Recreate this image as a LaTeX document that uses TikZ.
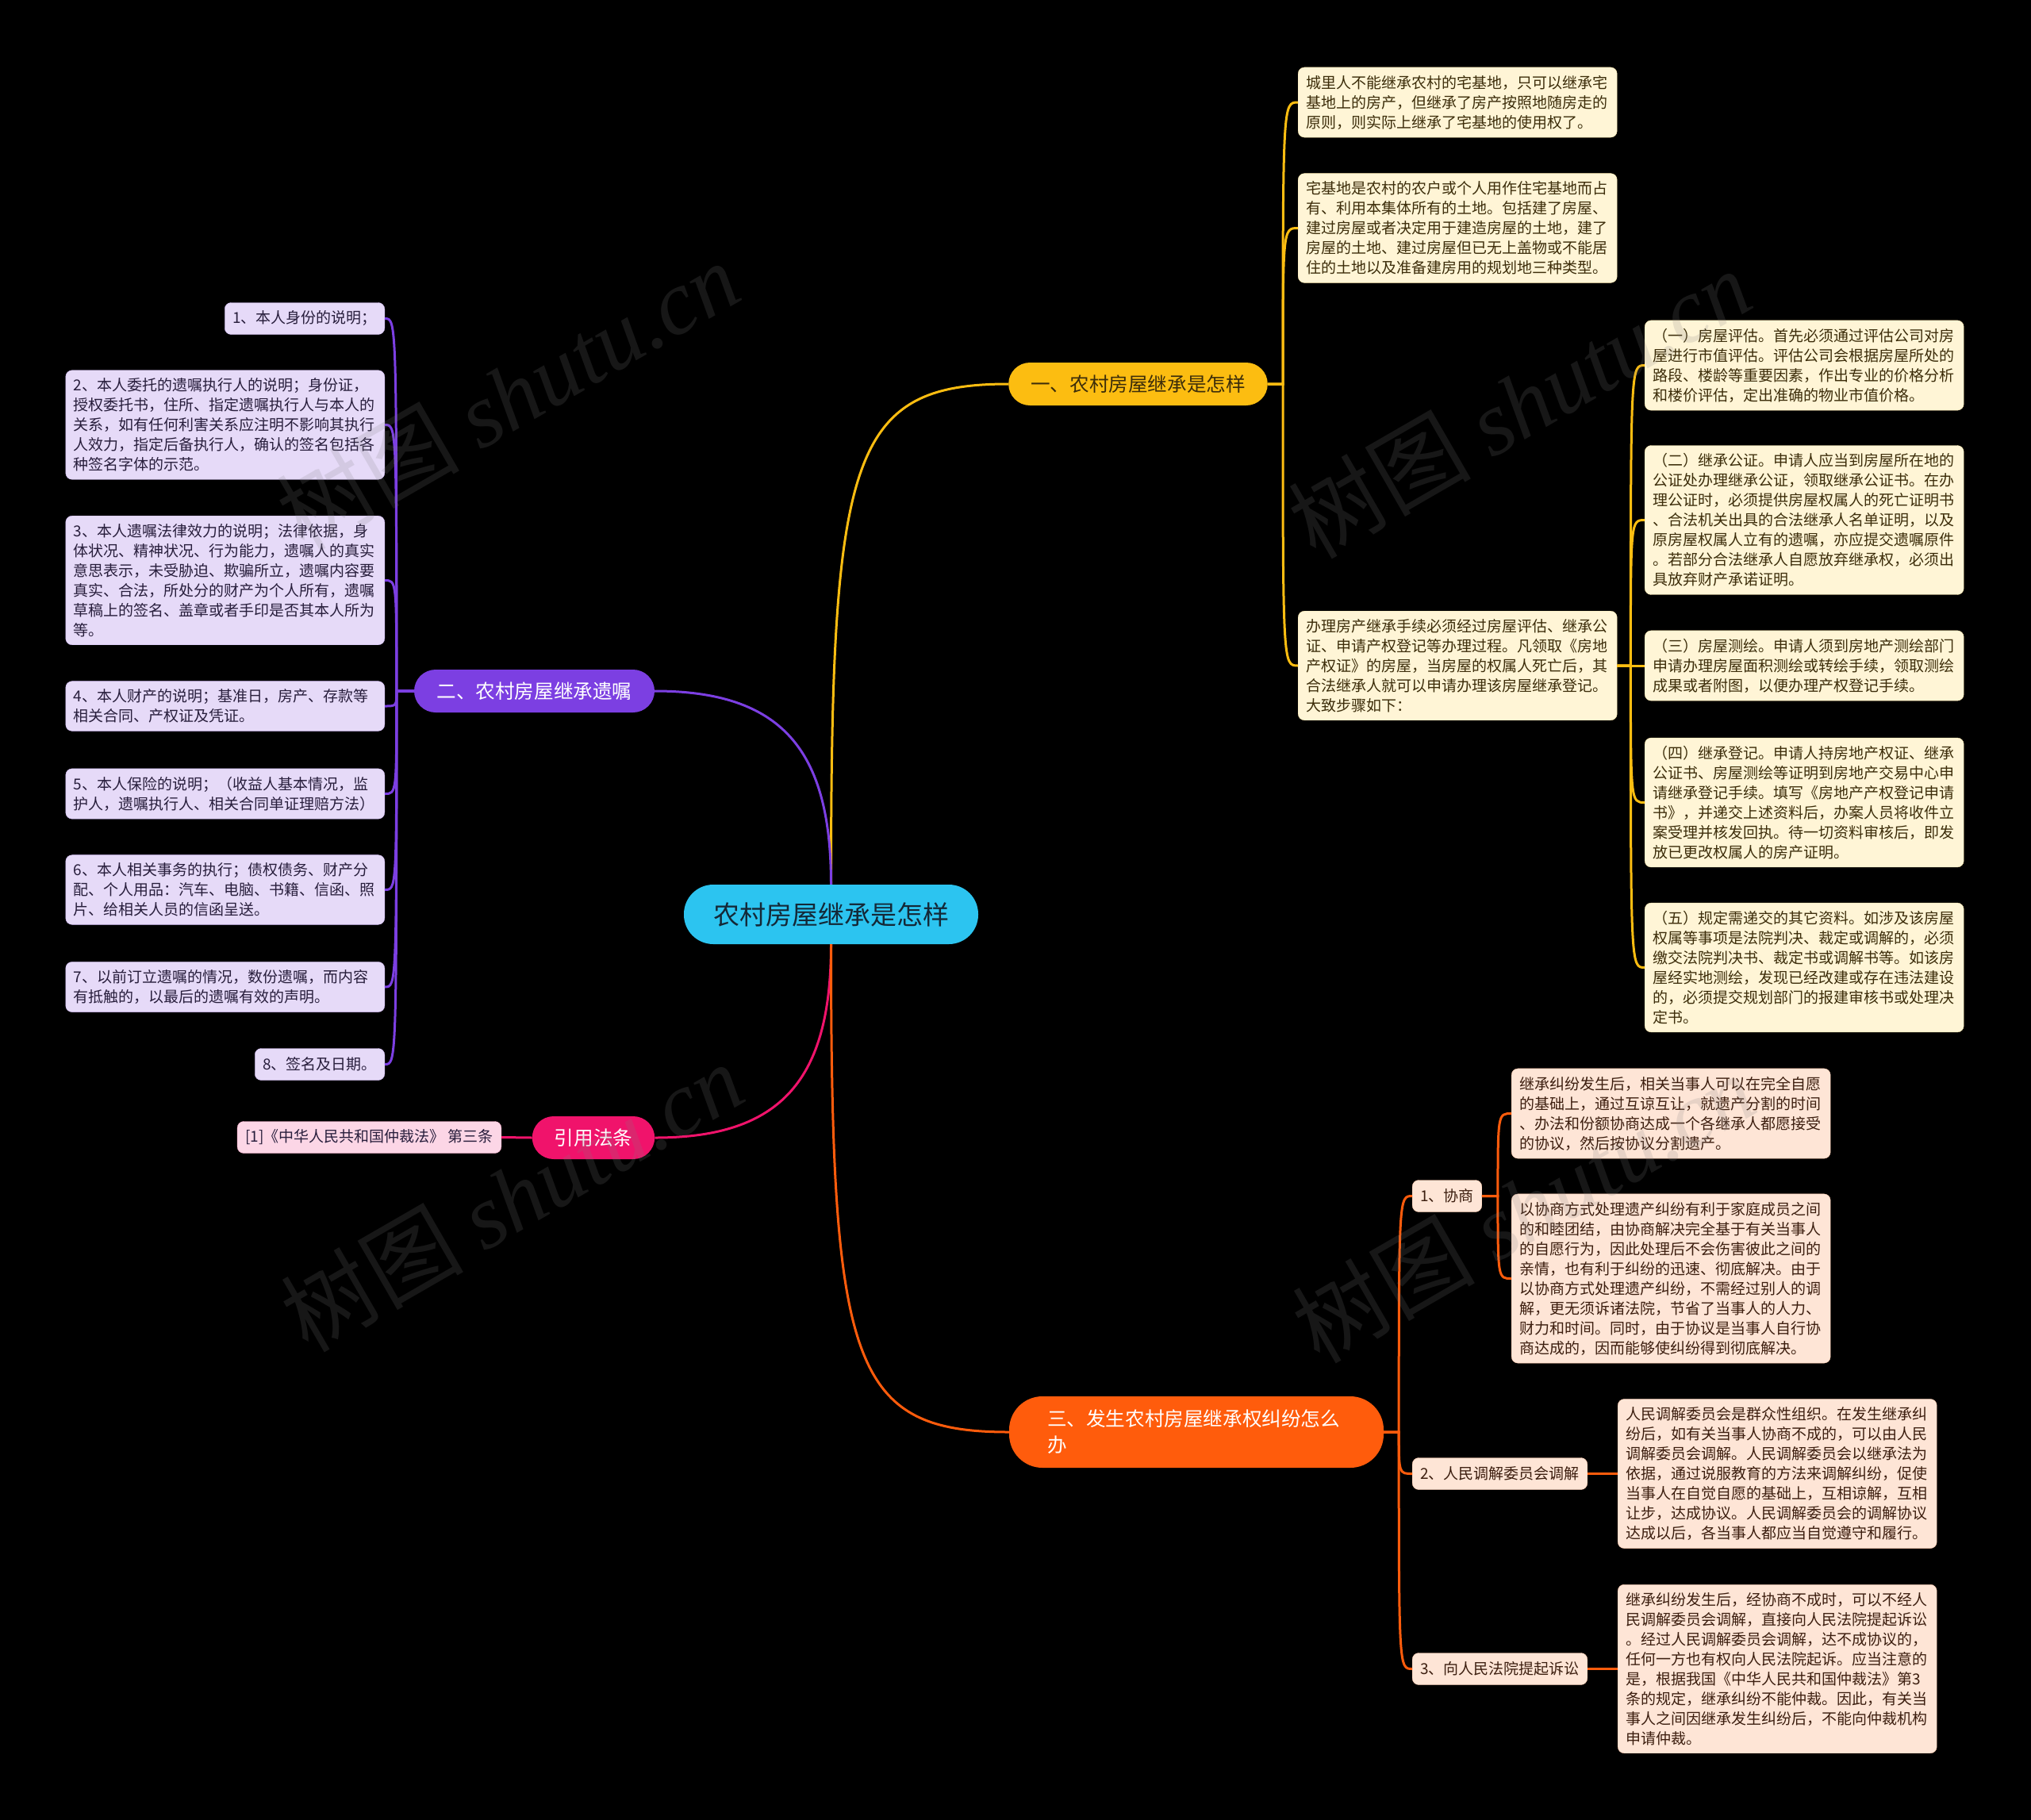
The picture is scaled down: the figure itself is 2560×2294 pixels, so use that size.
\documentclass[tikz,border=0pt]{standalone}
\usepackage{fontspec}
\setmainfont{Noto Sans CJK SC}
\newfontfamily\wmserif{Liberation Serif}
\usetikzlibrary{positioning,calc}

\definecolor{rootcyan}{RGB}{44,196,240}
\definecolor{roottext}{RGB}{20,40,55}
\definecolor{ybranch}{RGB}{252,189,17}
\definecolor{yleaf}{RGB}{255,245,214}
\definecolor{ytext}{RGB}{60,45,10}
\definecolor{pbranch}{RGB}{124,63,226}
\definecolor{pleaf}{RGB}{230,218,248}
\definecolor{ptext}{RGB}{40,30,60}
\definecolor{kbranch}{RGB}{240,19,107}
\definecolor{kleaf}{RGB}{252,214,230}
\definecolor{obranch}{RGB}{255,92,12}
\definecolor{oleaf}{RGB}{254,229,214}
\definecolor{otext}{RGB}{60,30,15}

\newcommand\leaffont{\fontsize{19}{25}\selectfont}
\newcommand\topicfont{\fontsize{24.6}{33}\selectfont}
\newcommand\rootfont{\fontsize{33}{40}\selectfont}
\newcommand\wmfont{\fontsize{115}{120}\selectfont}

\tikzset{
  leafbox/.style={rounded corners=8pt, inner xsep=10pt, inner ysep=10pt,
    align=left, font=\leaffont, minimum height=40pt},
  wideleaf/.style={leafbox, text width=382pt},
  ybox/.style={fill=yleaf, draw=yleaf!80!ybranch, text=ytext},
  pbox/.style={fill=pleaf, draw=pleaf!80!pbranch, text=ptext},
  kbox/.style={fill=kleaf, draw=kleaf!80!kbranch, text=ptext},
  obox/.style={fill=oleaf, draw=oleaf!80!obranch, text=otext},
  topic/.style={rounded corners=27pt, inner xsep=28pt, inner ysep=12pt,
    font=\topicfont, minimum height=54pt},
  link/.style={line width=3pt},
  watermark/.style={text=gray, text opacity=0.18, rotate=30, font=\wmfont},
}

\begin{document}
\begin{tikzpicture}[x=1pt, y=-1pt]
\fill[black] (0,0) rectangle (2560,2294);
\useasboundingbox (0,0) rectangle (2560,2294);

% root and main topics
\node[topic, fill=rootcyan, text=roottext, font=\rootfont, minimum width=371pt,
      minimum height=75pt, rounded corners=37pt] (root) at (1047.5,1152.5) {农村房屋继承是怎样};
\node[topic, fill=ybranch, text=ytext, minimum width=325pt] (m1) at (1434.5,484) {一、农村房屋继承是怎样};
\node[topic, fill=pbranch, text=white, minimum width=303pt] (m2) at (673.5,871) {二、农村房屋继承遗嘱};
\node[topic, fill=kbranch, text=white, minimum width=154pt] (law) at (748,1434) {引用法条};
\node[topic, fill=obranch, text=white, text width=376pt, align=left, inner xsep=48pt,
      minimum height=90pt, rounded corners=42pt] (m3) at (1508,1805)
  {三、发生农村房屋继承权纠纷怎么\\办};

% yellow branch
\node[wideleaf, ybox, anchor=west] (a1) at (1636,129) {城里人不能继承农村的宅基地，只可以继承宅\\基地上的房产，但继承了房产按照地随房走的\\原则，则实际上继承了宅基地的使用权了。};
\node[wideleaf, ybox, anchor=west] (a2) at (1636,287.5) {宅基地是农村的农户或个人用作住宅基地而占\\有、利用本集体所有的土地。包括建了房屋、\\建过房屋或者决定用于建造房屋的土地，建了\\房屋的土地、建过房屋但已无上盖物或不能居\\住的土地以及准备建房用的规划地三种类型。};
\node[wideleaf, ybox, anchor=west] (a3) at (1636,839) {办理房产继承手续必须经过房屋评估、继承公\\证、申请产权登记等办理过程。凡领取《房地\\产权证》的房屋，当房屋的权属人死亡后，其\\合法继承人就可以申请办理该房屋继承登记。\\大致步骤如下：};
\node[wideleaf, ybox, anchor=west] (b1) at (2073,460.5) {（一）房屋评估。首先必须通过评估公司对房\\屋进行市值评估。评估公司会根据房屋所处的\\路段、楼龄等重要因素，作出专业的价格分析\\和楼价评估，定出准确的物业市值价格。};
\node[wideleaf, ybox, anchor=west] (b2) at (2073,655.5) {（二）继承公证。申请人应当到房屋所在地的\\公证处办理继承公证，领取继承公证书。在办\\理公证时，必须提供房屋权属人的死亡证明书\\、合法机关出具的合法继承人名单证明，以及\\原房屋权属人立有的遗嘱，亦应提交遗嘱原件\\。若部分合法继承人自愿放弃继承权，必须出\\具放弃财产承诺证明。};
\node[wideleaf, ybox, anchor=west] (b3) at (2073,839) {（三）房屋测绘。申请人须到房地产测绘部门\\申请办理房屋面积测绘或转绘手续，领取测绘\\成果或者附图，以便办理产权登记手续。};
\node[wideleaf, ybox, anchor=west] (b4) at (2073,1011.5) {（四）继承登记。申请人持房地产权证、继承\\公证书、房屋测绘等证明到房地产交易中心申\\请继承登记手续。填写《房地产产权登记申请\\书》，并递交上述资料后，办案人员将收件立\\案受理并核发回执。待一切资料审核后，即发\\放已更改权属人的房产证明。};
\node[wideleaf, ybox, anchor=west] (b5) at (2073,1219.5) {（五）规定需递交的其它资料。如涉及该房屋\\权属等事项是法院判决、裁定或调解的，必须\\缴交法院判决书、裁定书或调解书等。如该房\\屋经实地测绘，发现已经改建或存在违法建设\\的，必须提交规划部门的报建审核书或处理决\\定书。};

% purple branch
\node[leafbox, pbox, anchor=east] (c1) at (485,401.5) {1、本人身份的说明；};
\node[wideleaf, pbox, anchor=east] (c2) at (485,535.5) {2、本人委托的遗嘱执行人的说明；身份证，\\授权委托书，住所、指定遗嘱执行人与本人的\\关系，如有任何利害关系应注明不影响其执行\\人效力，指定后备执行人，确认的签名包括各\\种签名字体的示范。};
\node[wideleaf, pbox, anchor=east] (c3) at (485,731.5) {3、本人遗嘱法律效力的说明；法律依据，身\\体状况、精神状况、行为能力，遗嘱人的真实\\意思表示，未受胁迫、欺骗所立，遗嘱内容要\\真实、合法，所处分的财产为个人所有，遗嘱\\草稿上的签名、盖章或者手印是否其本人所为\\等。};
\node[wideleaf, pbox, anchor=east] (c4) at (485,890) {4、本人财产的说明；基准日，房产、存款等\\相关合同、产权证及凭证。};
\node[wideleaf, pbox, anchor=east] (c5) at (485,1000.5) {5、本人保险的说明；（收益人基本情况，监\\护人，遗嘱执行人、相关合同单证理赔方法）};
\node[wideleaf, pbox, anchor=east] (c6) at (485,1121.5) {6、本人相关事务的执行；债权债务、财产分\\配、个人用品：汽车、电脑、书籍、信函、照\\片、给相关人员的信函呈送。};
\node[wideleaf, pbox, anchor=east] (c7) at (485,1244) {7、以前订立遗嘱的情况，数份遗嘱，而内容\\有抵触的，以最后的遗嘱有效的声明。};
\node[leafbox, pbox, anchor=east] (c8) at (485,1341.5) {8、签名及日期。};

% pink branch
\node[leafbox, kbox, anchor=east] (cite) at (632,1433.5) {[1]《中华人民共和国仲裁法》 第三条};

% orange branch
\node[leafbox, obox, anchor=west] (o1) at (1780,1507.5) {1、协商};
\node[leafbox, obox, anchor=west] (o2) at (1780,1857.5) {2、人民调解委员会调解};
\node[leafbox, obox, anchor=west] (o3) at (1780,2103.5) {3、向人民法院提起诉讼};
\node[wideleaf, obox, anchor=west] (p1) at (1905,1403.5) {继承纠纷发生后，相关当事人可以在完全自愿\\的基础上，通过互谅互让，就遗产分割的时间\\、办法和份额协商达成一个各继承人都愿接受\\的协议，然后按协议分割遗产。};
\node[wideleaf, obox, anchor=west] (p2) at (1905,1611.5) {以协商方式处理遗产纠纷有利于家庭成员之间\\的和睦团结，由协商解决完全基于有关当事人\\的自愿行为，因此处理后不会伤害彼此之间的\\亲情，也有利于纠纷的迅速、彻底解决。由于\\以协商方式处理遗产纠纷，不需经过别人的调\\解，更无须诉诸法院，节省了当事人的人力、\\财力和时间。同时，由于协议是当事人自行协\\商达成的，因而能够使纠纷得到彻底解决。};
\node[wideleaf, obox, anchor=west] (q1) at (2039,1857.5) {人民调解委员会是群众性组织。在发生继承纠\\纷后，如有关当事人协商不成的，可以由人民\\调解委员会调解。人民调解委员会以继承法为\\依据，通过说服教育的方法来调解纠纷，促使\\当事人在自觉自愿的基础上，互相谅解，互相\\让步，达成协议。人民调解委员会的调解协议\\达成以后，各当事人都应当自觉遵守和履行。};
\node[wideleaf, obox, anchor=west] (r1) at (2039,2103.5) {继承纠纷发生后，经协商不成时，可以不经人\\民调解委员会调解，直接向人民法院提起诉讼\\。经过人民调解委员会调解，达不成协议的，\\任何一方也有权向人民法院起诉。应当注意的\\是，根据我国《中华人民共和国仲裁法》第3\\条的规定，继承纠纷不能仲裁。因此，有关当\\事人之间因继承发生纠纷后，不能向仲裁机构\\申请仲裁。};

% connectors
\draw[link, ybranch] (root.north) .. controls +(0,-540) and +(-200,0) .. (m1.west);
\draw[link, pbranch] (root.north) .. controls +(0,-170) and +(160,0) .. (m2.east);
\draw[link, kbranch] (root.south) .. controls +(0,170) and +(160,0) .. (law.east);
\draw[link, obranch] (root.south) .. controls +(0,530) and +(-200,0) .. (m3.west);

\foreach \c in {a1,a2,a3}
  \draw[link, ybranch] (m1.east) -- ++(19,0) coordinate (j) .. controls (j |- \c.west) .. (\c.west);
\foreach \c in {b1,b2,b3,b4,b5}
  \draw[link, ybranch] (a3.east) -- ++(17,0) coordinate (j) .. controls (j |- \c.west) .. (\c.west);
\foreach \c in {c1,c2,c3,c4,c5,c6,c7,c8}
  \draw[link, pbranch] (m2.west) -- ++(-22,0) coordinate (j) .. controls (j |- \c.east) .. (\c.east);
\draw[link, kbranch] (law.west) -- (cite.east);
\foreach \c in {o1,o2,o3}
  \draw[link, obranch] (m3.east) -- ++(19,0) coordinate (j) .. controls (j |- \c.west) .. (\c.west);
\foreach \c in {p1,p2}
  \draw[link, obranch] (o1.east) -- ++(20,0) coordinate (j) .. controls (j |- \c.west) .. (\c.west);
\draw[link, obranch] (o2.east) -- (q1.west);
\draw[link, obranch] (o3.east) -- (r1.west);

% watermarks
\foreach \x/\y [count=\i] in {640/498, 1915/508, 645/1508, 1920/1522}
  \node[watermark] (wm\i) at (\x,\y) {树图 {\wmserif\itshape shutu.cn}};
\end{tikzpicture}
\end{document}
